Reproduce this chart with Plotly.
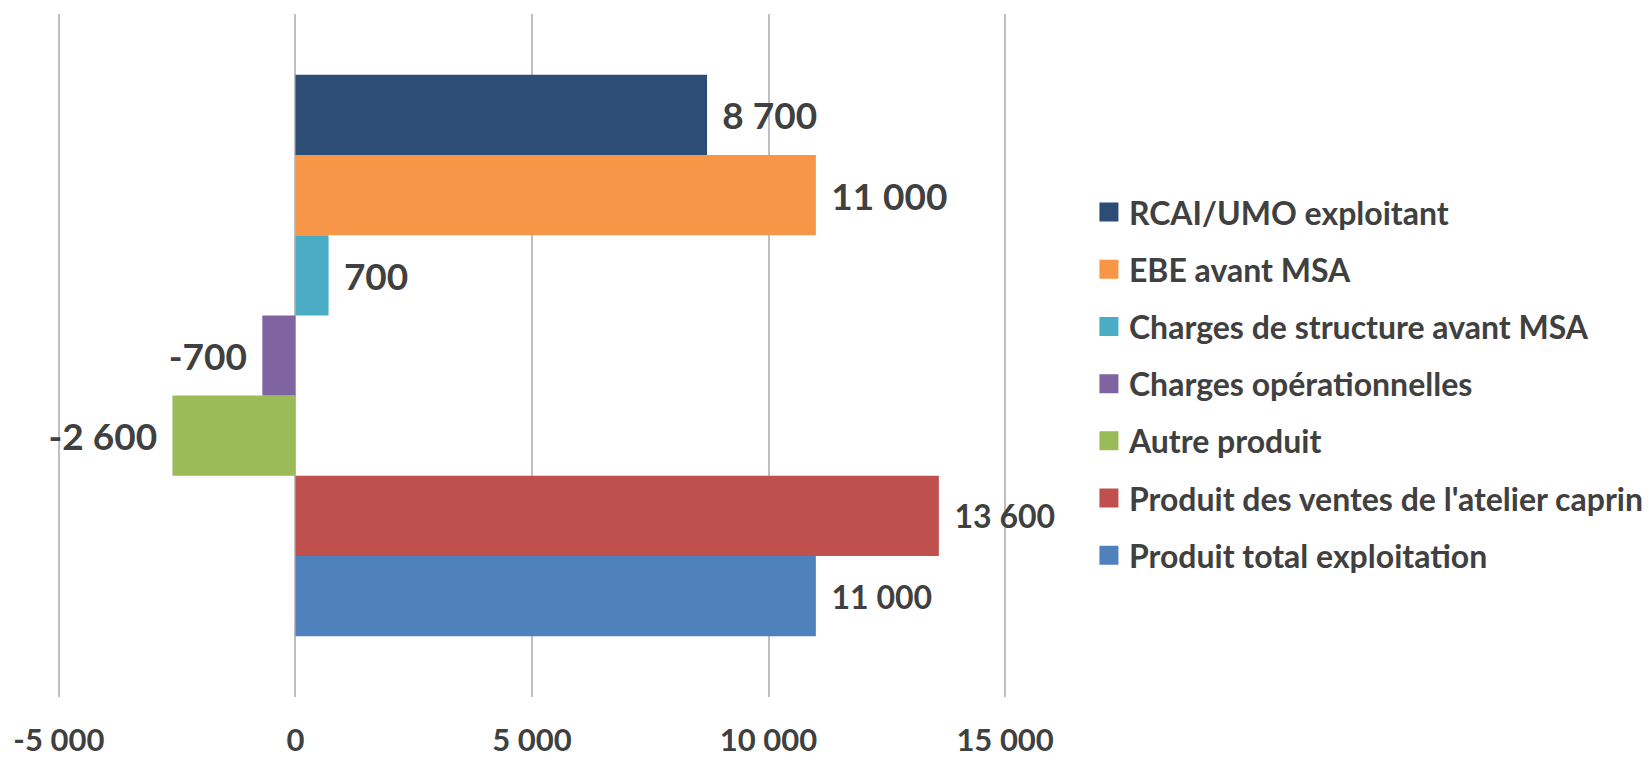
import plotly.graph_objects as go

# Data (bottom to top in the chart)
series_names = [
    "Produit total exploitation",
    "Produit des ventes de l'atelier caprin",
    "Autre produit",
    "Charges opérationnelles",
    "Charges de structure avant MSA",
    "EBE avant MSA",
    "RCAI/UMO exploitant",
]
series_values = [11000, 13600, -2600, -700, 700, 11000, 8700]
series_colors = ["#4F81BD", "#C0504D", "#9BBB59", "#8064A2", "#4BACC6", "#F79646", "#2C4D75"]
label_sizes = [32, 32, 37, 37, 37, 37, 37]
category = ["Résultat"]
tick_vals = [-5000, 0, 5000, 10000, 15000]
tick_text = ["-5 000", "0", "5 000", "10 000", "15 000"]

FONT = "Lato"
TXT = "#404040"
W, H = 1642, 753  # page body has an 8px default margin


def fmt(v, size):
    s = f"{abs(v):,}".replace(",", " ")
    pad = "\u2004" if size >= 36 else "\u2004\u200a"
    return ("-" + s + pad) if v < 0 else (pad + s)


fig = go.Figure()
for name, val, col, ls in zip(series_names, series_values, series_colors, label_sizes):
    fig.add_trace(go.Bar(
        y=category, x=[val], orientation="h", name=name,
        marker=dict(color=col, line=dict(width=0)),
        text=[fmt(val, ls)], textposition="outside", textangle=0,
        constraintext="none", cliponaxis=False,
        textfont=dict(family=FONT, size=ls, color=TXT, weight="bold"),
        showlegend=False, hoverinfo="skip",
    ))

# legend entries, top item first
for name, col in zip(series_names[::-1], series_colors[::-1]):
    fig.add_trace(go.Scatter(
        x=[None], y=[None], mode="markers", name=name,
        marker=dict(symbol="square", size=16, color=col, line=dict(color=col, width=3)),
        legendgroup=name, showlegend=True,
    ))

fig.update_layout(
    width=W, height=H,
    margin=dict(l=49, r=643, t=6, b=64, autoexpand=False),
    paper_bgcolor="white", plot_bgcolor="white",
    barmode="group", bargap=0.178, bargroupgap=0,
    font=dict(family=FONT, color=TXT, weight="bold"),
    showlegend=True,
    legend=dict(
        xref="container", yref="container",
        x=0.6583, y=0.501, xanchor="left", yanchor="middle",
        traceorder="grouped", tracegroupgap=12.6, maxheight=740,
        font=dict(family=FONT, size=32, color=TXT, weight="bold"),
        bgcolor="rgba(0,0,0,0)", itemclick=False,
    ),
    xaxis=dict(
        range=[-5040, 15040], tickvals=tick_vals, ticktext=tick_text,
        showgrid=True, gridcolor="#BFBFBF", gridwidth=2,
        zeroline=False, showline=False, ticks="", automargin=False,
        tickfont=dict(family=FONT, size=31, color=TXT, weight="bold"),
        ticklabelstandoff=22, fixedrange=True,
    ),
    yaxis=dict(
        showticklabels=False, showgrid=False, zeroline=False, showline=False,
        ticks="", fixedrange=True, type="category", automargin=False,
    ),
)

fig.write_html("out.html")
